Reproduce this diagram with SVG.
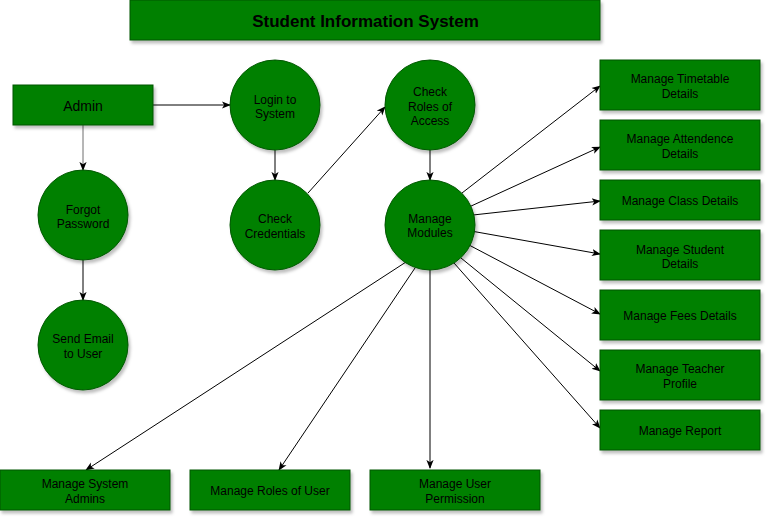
<svg xmlns="http://www.w3.org/2000/svg" width="772" height="522" viewBox="0 0 772 522">
<style>
.n{fill:#008000;stroke:#005700;stroke-width:1;filter:url(#sh)}
.t{font-family:"Liberation Sans",Arial,sans-serif;font-size:12px;fill:#000;text-anchor:middle}
.c{fill:none;stroke:#000;stroke-width:1;marker-end:url(#ah)}
</style>
<defs>
<filter id="sh" x="-20%" y="-20%" width="140%" height="150%">
<feDropShadow dx="2" dy="3" stdDeviation="1.5" flood-color="#000" flood-opacity="0.25"/>
</filter>
<marker id="ah" viewBox="0 0 10 10" refX="9" refY="5" markerWidth="9" markerHeight="9" markerUnits="userSpaceOnUse" orient="auto">
<path d="M0,1 L10,5 L0,9 L2.5,5 z" fill="#000"/>
</marker>
</defs>
<rect width="772" height="522" fill="#fff"/>

<g id="connectors">
<line class="c" x1="153" y1="105" x2="230" y2="105"/>
<line class="c" x1="83" y1="125" x2="83" y2="170" style="stroke:#6e6e6e"/>
<line class="c" x1="83" y1="260" x2="83" y2="300"/>
<line class="c" x1="275" y1="150" x2="275" y2="180"/>
<line class="c" x1="308" y1="193" x2="385" y2="107"/>
<line class="c" x1="430" y1="150" x2="430" y2="180"/>
<line class="c" x1="462" y1="193" x2="600" y2="86"/>
<line class="c" x1="469" y1="207" x2="600" y2="147"/>
<line class="c" x1="473" y1="215" x2="600" y2="201"/>
<line class="c" x1="471" y1="231" x2="600" y2="254"/>
<line class="c" x1="469" y1="245" x2="600" y2="314"/>
<line class="c" x1="461" y1="258" x2="600" y2="371"/>
<line class="c" x1="454" y1="263" x2="600" y2="428"/>
<line class="c" x1="430" y1="270" x2="430" y2="468"/>
<line class="c" x1="415" y1="268" x2="279" y2="470"/>
<line class="c" x1="406" y1="262" x2="86" y2="470"/>
</g>

<g id="title">
<rect class="n" x="130" y="0" width="470" height="40"/>
<text x="365.5" y="26.5" style="font-family:'Liberation Sans',Arial,sans-serif;font-size:17px;font-weight:bold;text-anchor:middle">Student Information System</text>
</g>
<g id="admin">
<rect class="n" x="13" y="85" width="140" height="40"/>
<text class="t" x="83" y="110.5" style="font-size:14px">Admin</text>
</g>
<g id="login">
<circle class="n" cx="275" cy="105" r="45"/>
<text class="t" x="275" y="103.5">Login to</text>
<text class="t" x="275" y="118">System</text>
</g>
<g id="check-credentials">
<circle class="n" cx="275" cy="225" r="45"/>
<text class="t" x="275" y="223">Check</text>
<text class="t" x="275" y="237.5">Credentials</text>
</g>
<g id="forgot-password">
<circle class="n" cx="83" cy="215" r="45"/>
<text class="t" x="83" y="213.5">Forgot</text>
<text class="t" x="83" y="228">Password</text>
</g>
<g id="send-email">
<circle class="n" cx="83" cy="345" r="45"/>
<text class="t" x="83" y="343">Send Email</text>
<text class="t" x="83" y="357.5">to User</text>
</g>
<g id="check-roles">
<circle class="n" cx="430" cy="105" r="45"/>
<text class="t" x="430" y="96">Check</text>
<text class="t" x="430" y="110.5">Roles of</text>
<text class="t" x="430" y="125">Access</text>
</g>
<g id="manage-modules">
<circle class="n" cx="430" cy="225" r="45"/>
<text class="t" x="430" y="222.5">Manage</text>
<text class="t" x="430" y="237">Modules</text>
</g>
<g id="timetable">
<rect class="n" x="600" y="60" width="160" height="50"/>
<text class="t" x="680" y="83">Manage Timetable</text>
<text class="t" x="680" y="97.5">Details</text>
</g>
<g id="attendence">
<rect class="n" x="600" y="120" width="160" height="50"/>
<text class="t" x="680" y="143">Manage Attendence</text>
<text class="t" x="680" y="157.5">Details</text>
</g>
<g id="class">
<rect class="n" x="600" y="180" width="160" height="40"/>
<text class="t" x="680" y="205">Manage Class Details</text>
</g>
<g id="student">
<rect class="n" x="600" y="230" width="160" height="50"/>
<text class="t" x="680" y="253.5">Manage Student</text>
<text class="t" x="680" y="268">Details</text>
</g>
<g id="fees">
<rect class="n" x="600" y="290" width="160" height="50"/>
<text class="t" x="680" y="320">Manage Fees Details</text>
</g>
<g id="teacher">
<rect class="n" x="600" y="350" width="160" height="50"/>
<text class="t" x="680" y="373">Manage Teacher</text>
<text class="t" x="680" y="387.5">Profile</text>
</g>
<g id="report">
<rect class="n" x="600" y="410" width="160" height="40"/>
<text class="t" x="680" y="435">Manage Report</text>
</g>
<g id="system-admins">
<rect class="n" x="0" y="470" width="170" height="40"/>
<text class="t" x="85" y="488">Manage System</text>
<text class="t" x="85" y="502.5">Admins</text>
</g>
<g id="roles-of-user">
<rect class="n" x="190" y="470" width="160" height="40"/>
<text class="t" x="270" y="495">Manage Roles of User</text>
</g>
<g id="user-permission">
<rect class="n" x="370" y="470" width="170" height="40"/>
<text class="t" x="455" y="488">Manage User</text>
<text class="t" x="455" y="502.5">Permission</text>
</g>
</svg>
